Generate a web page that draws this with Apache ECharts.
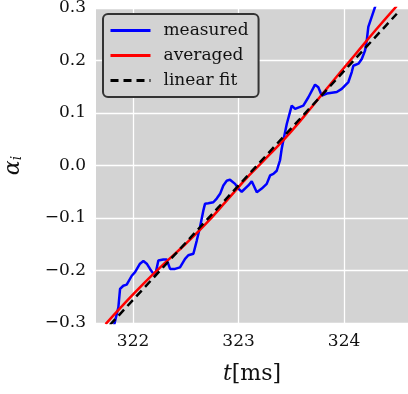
<!DOCTYPE html>
<html><head><meta charset="utf-8">
<script src="https://cdn.jsdelivr.net/npm/echarts@6/dist/echarts.min.js"></script>
<style>html,body{margin:0;padding:0;background:#fff}#c{width:408px;height:394px}</style>
</head><body><div id="c"></div>
<script>
const xTicks = [322, 323, 324];
const yTicks = [-0.3, -0.2, -0.1, 0.0, 0.1, 0.2, 0.3];
const measuredT = [321.801,321.829,321.861,321.877,321.908,321.940,321.988,322.019,322.066,322.098,322.130,322.161,322.192,322.209,322.240,322.287,322.319,322.351,322.398,322.445,322.493,322.524,322.572,322.604,322.635,322.666,322.682,322.714,322.761,322.793,322.825,322.856,322.888,322.919,322.967,322.998,323.030,323.093,323.125,323.173,323.220,323.267,323.299,323.330,323.362,323.393,323.409,323.425,323.457,323.504,323.536,323.614,323.662,323.725,323.756,323.789,323.836,323.931,323.978,324.041,324.073,324.088,324.136,324.168,324.199,324.215,324.230,324.262,324.294,324.322];
const measuredV = [-0.320,-0.297,-0.270,-0.235,-0.229,-0.227,-0.210,-0.203,-0.187,-0.182,-0.187,-0.197,-0.206,-0.210,-0.181,-0.179,-0.179,-0.197,-0.197,-0.194,-0.178,-0.171,-0.168,-0.143,-0.117,-0.086,-0.073,-0.072,-0.070,-0.063,-0.054,-0.038,-0.029,-0.027,-0.035,-0.044,-0.050,-0.038,-0.030,-0.051,-0.044,-0.035,-0.019,-0.016,-0.010,0.010,0.032,0.048,0.079,0.114,0.108,0.114,0.130,0.154,0.149,0.133,0.137,0.140,0.146,0.159,0.178,0.190,0.194,0.203,0.219,0.238,0.264,0.283,0.302,0.320];
const averagedT = [321.74,321.9,322.1,322.3,322.5,322.7,322.9,323.1,323.3,323.5,323.7,323.9,324.1,324.3,324.5];
const averagedV = [-0.302,-0.267,-0.225,-0.186,-0.149,-0.109,-0.064,-0.019,0.022,0.065,0.113,0.162,0.210,0.258,0.304];
const fitT = [321.78, 324.50];
const fitV = [-0.304, 0.289];

const zip = (a, b) => a.map((v, i) => [v, b[i]]);
const FONT = 'DejaVu Serif';
const chart = echarts.init(document.getElementById('c'), null, {renderer: 'canvas'});
chart.setOption({
  animation: false,
  grid: {left: 96, right: 0, top: 8, bottom: 71, show: true, backgroundColor: '#d3d3d3', borderWidth: 0,
    containLabel: false, outerBoundsMode: 'none'},
  legend: {
    orient: 'vertical', left: 103, top: 14,
    itemWidth: 40, itemHeight: 14, itemGap: 8,
    padding: [8, 10, 8, 6],
    itemStyle: {opacity: 0},
    lineStyle: {width: 3},
    backgroundColor: '#d3d3d3', borderColor: '#333', borderWidth: 2, borderRadius: 5,
    textStyle: {fontFamily: FONT, fontSize: 17, color: '#111', padding: [0, 0, 0, 8]},
    data: ['measured', 'averaged', 'linear fit']
  },
  xAxis: {
    type: 'value', min: 321.649, max: 324.606,
    axisLine: {show: false},
    axisTick: {show: false, customValues: xTicks},
    axisLabel: {customValues: xTicks, fontFamily: FONT, fontSize: 17, color: '#111', margin: 10,
      formatter: v => String(Math.round(v))},
    splitLine: {show: true, lineStyle: {color: '#fff', width: 1.3}},
    name: '{t|t}{b|[ms]}', nameLocation: 'middle', nameGap: 40,
    nameTextStyle: {rich: {
      t: {fontFamily: FONT, fontStyle: 'italic', fontSize: 22, color: '#111'},
      b: {fontFamily: FONT, fontSize: 22, color: '#111'}
    }}
  },
  yAxis: {
    type: 'value', min: -0.3, max: 0.3, interval: 0.1,
    axisLine: {show: false}, axisTick: {show: false},
    axisLabel: {fontFamily: FONT, fontSize: 17, color: '#111', margin: 10,
      formatter: v => { const s = Math.abs(v).toFixed(1); return (v < -1e-9 ? '\u2212' : '') + s; }},
    splitLine: {show: true, lineStyle: {color: '#fff', width: 1.3}},
    name: '{a|\u03b1}{s|i}', nameLocation: 'middle', nameGap: 72, nameRotate: 90,
    nameTextStyle: {rich: {
      a: {fontFamily: FONT, fontStyle: 'italic', fontSize: 22, color: '#111', verticalAlign: 'bottom', lineHeight: 26},
      s: {fontFamily: FONT, fontStyle: 'italic', fontSize: 14, color: '#111', verticalAlign: 'bottom', lineHeight: 20}
    }}
  },
  series: [
    {name: 'measured', type: 'line', data: zip(measuredT, measuredV), symbol: 'none', clip: true,
      lineStyle: {color: '#0000ff', width: 2.5}, itemStyle: {color: '#0000ff'}, z: 2},
    {name: 'averaged', type: 'line', data: zip(averagedT, averagedV), symbol: 'none', smooth: true, clip: true,
      lineStyle: {color: '#ff0000', width: 2.5}, itemStyle: {color: '#ff0000'}, z: 3},
    {name: 'linear fit', type: 'line', data: zip(fitT, fitV), symbol: 'none', clip: true,
      lineStyle: {color: '#000', width: 2.5, type: [8, 5]}, itemStyle: {color: '#000'}, z: 4}
  ]
});
</script></body></html>
